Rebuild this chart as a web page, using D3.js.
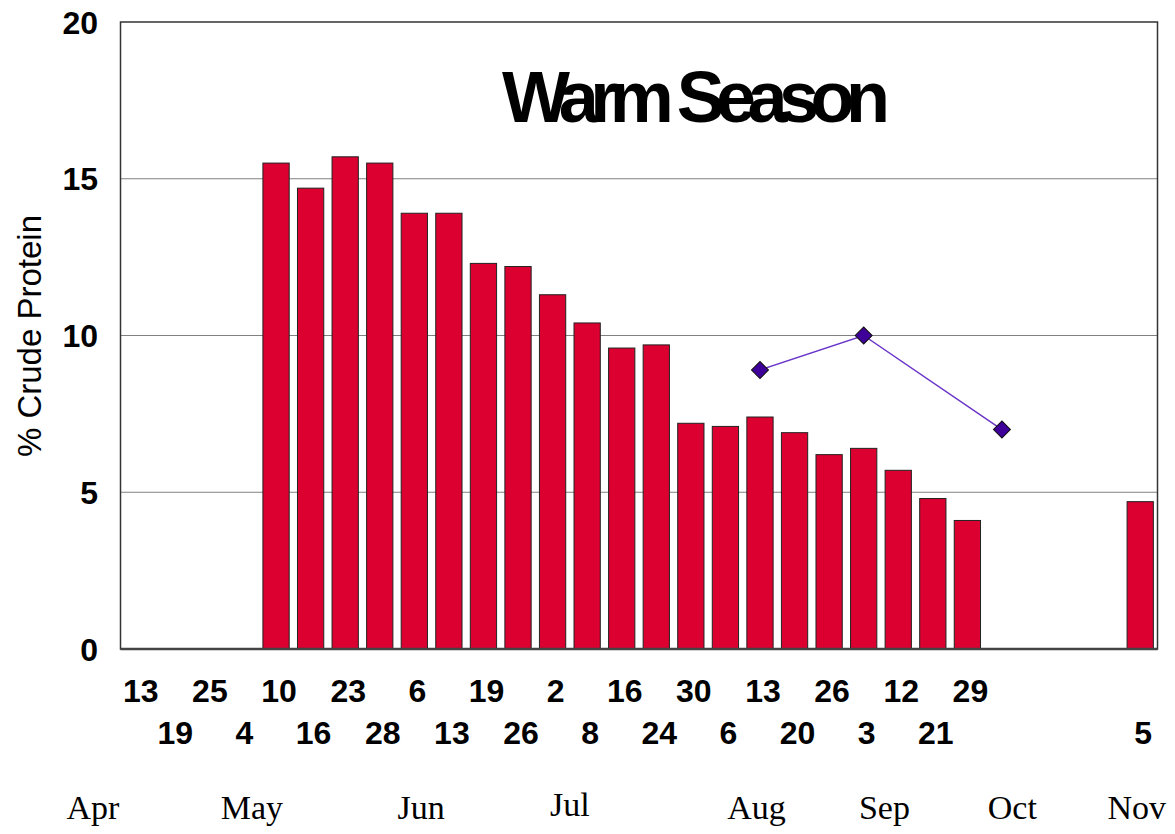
<!DOCTYPE html>
<html>
<head>
<meta charset="utf-8">
<script src="https://cdn.jsdelivr.net/npm/d3@7"></script>
<style>
	body { margin: 0; background: #fff; }
	svg { display: block; }
</style>
</head>
<body>
<div id="chart"></div>
<script>
// sampling dates (day of month) - blank slots have no sample
var dayLabels = ["13", "19", "25", "4", "10", "16", "23", "28", "6", "13", "19", "26", "2", "8",
	"16", "24", "30", "6", "13", "20", "26", "3", "12", "21", "29", "", "", "", "", "5"];
// % crude protein, null = no bar
var proteinValues = [null, null, null, null, 15.5, 14.7, 15.7, 15.5, 13.9, 13.9, 12.3, 12.2, 11.3, 10.4,
	9.6, 9.7, 7.2, 7.1, 7.4, 6.9, 6.2, 6.4, 5.7, 4.8, 4.1, null, null, null, null, 4.7];
// second series (diamonds), slot index + value
var lineSlots = [18, 21, 25];
var lineValues = [8.9, 10, 7.0];
var yTicks = [0, 5, 10, 15, 20];
var months = ["Apr", "May", "Jun", "Jul", "Aug", "Sep", "Oct", "Nov"];
// month label position measured in slot units
var monthSlots = [-1.3, 3.3, 8.2, 12.5, 17.9, 21.6, 25.3, 28.9];

var width = 1175,
	height = 834;
var margin = { left: 120.5, top: 22, right: 17.5, bottom: 185 };

var svg = d3.select("#chart")
	.append("svg")
	.attr("width", width)
	.attr("height", height);

var x = d3.scaleBand()
	.domain(d3.range(dayLabels.length))
	.range([margin.left, width - margin.right])
	.paddingInner(0.24)
	.paddingOuter(0.12);

var step = x.step();
var slotPos = d3.scaleLinear()
	.domain([0, 1])
	.range([margin.left + step / 2, margin.left + step * 1.5]);

var y = d3.scaleLinear()
	.domain([0, 20])
	.range([height - margin.bottom, margin.top]);

var x0 = margin.left,
	x1 = width - margin.right;

// gridlines
svg.append("g")
	.selectAll("line")
	.data(yTicks.filter(function(d) { return d > 0 && d < 20; }))
	.enter()
	.append("line")
	.attr("x1", x0)
	.attr("x2", x1)
	.attr("y1", function(d) { return y(d); })
	.attr("y2", function(d) { return y(d); })
	.style("stroke", "#808080")
	.style("stroke-width", 1.2);

// bars
svg.append("g")
	.selectAll("rect")
	.data(proteinValues.map(function(v, i) { return { i: i, v: v }; })
		.filter(function(d) { return d.v != null; }))
	.enter()
	.append("rect")
	.attr("x", function(d) { return x(d.i); })
	.attr("y", function(d) { return y(d.v); })
	.attr("width", x.bandwidth())
	.attr("height", function(d) { return y(0) - y(d.v); })
	.style("fill", "#db0030")
	.style("stroke", "#222")
	.style("stroke-width", 1);

// frame
svg.append("rect")
	.attr("x", x0)
	.attr("y", y(20))
	.attr("width", x1 - x0)
	.attr("height", y(0) - y(20))
	.style("fill", "none")
	.style("stroke", "#333")
	.style("stroke-width", 1.5);

svg.append("line")
	.attr("x1", x0)
	.attr("x2", x1)
	.attr("y1", y(0))
	.attr("y2", y(0))
	.style("stroke", "#444")
	.style("stroke-width", 2.5);

// line series
var pts = lineSlots.map(function(s, k) {
	return [slotPos(s), y(lineValues[k])];
});

svg.append("path")
	.attr("d", d3.line()(pts))
	.style("fill", "none")
	.style("stroke", "#6a35c8")
	.style("stroke-width", 1.5);

svg.append("g")
	.selectAll("path")
	.data(pts)
	.enter()
	.append("path")
	.attr("d", d3.symbol().type(d3.symbolSquare).size(144))
	.attr("transform", function(d) {
		return "translate(" + d[0] + "," + d[1] + ") rotate(45)";
	})
	.style("fill", "#3f0099")
	.style("stroke", "#111")
	.style("stroke-width", 1);

// y tick labels
svg.append("g")
	.selectAll("text")
	.data(yTicks)
	.enter()
	.append("text")
	.attr("x", 98)
	.attr("y", function(d) { return y(d); })
	.attr("dy", "0.36em")
	.attr("text-anchor", "end")
	.style("font-family", "Arial, 'Liberation Sans', sans-serif")
	.style("font-weight", "bold")
	.style("font-size", "32px")
	.text(function(d) { return d; });

// y title
svg.append("text")
	.attr("transform", "translate(41,336) rotate(-90)")
	.attr("text-anchor", "middle")
	.style("font-family", "Arial, 'Liberation Sans', sans-serif")
	.style("font-size", "33px")
	.text("% Crude Protein");

// day labels in two staggered rows
svg.append("g")
	.selectAll("text")
	.data(dayLabels)
	.enter()
	.append("text")
	.attr("x", function(d, i) { return x(i) + x.bandwidth() / 2 + 3; })
	.attr("y", function(d, i) { return i % 2 == 0 ? 702 : 744; })
	.attr("text-anchor", "middle")
	.style("font-family", "Arial, 'Liberation Sans', sans-serif")
	.style("font-weight", "bold")
	.style("font-size", "32px")
	.text(function(d) { return d; });

// month labels
svg.append("g")
	.selectAll("text")
	.data(months)
	.enter()
	.append("text")
	.attr("x", function(d, i) { return slotPos(monthSlots[i]); })
	.attr("y", function(d) { return d == "Jul" ? 816 : 819; })
	.attr("text-anchor", "middle")
	.style("font-family", "'Times New Roman', 'Liberation Serif', serif")
	.style("font-size", "34px")
	.text(function(d) { return d; });

// title
svg.append("text")
	.attr("x", 502)
	.attr("y", 122)
	.attr("textLength", 388)
	.attr("lengthAdjust", "spacing")
	.style("font-family", "Arial, 'Liberation Sans', sans-serif")
	.style("font-weight", "bold")
	.style("font-size", "72px")
	.text("Warm Season");
</script>
</body>
</html>
